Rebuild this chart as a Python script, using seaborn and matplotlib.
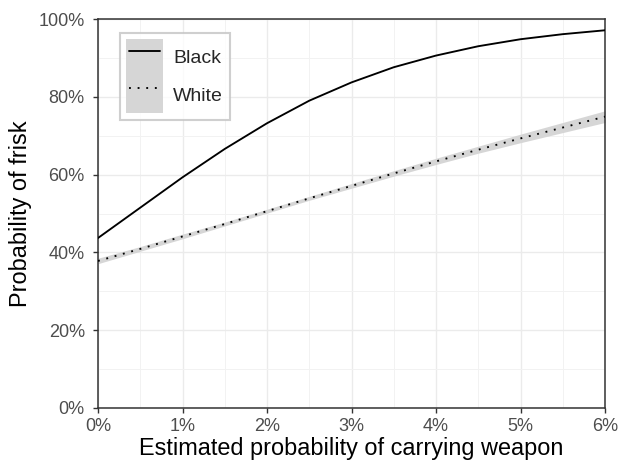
import matplotlib
matplotlib.use("Agg")
import matplotlib.pyplot as plt
from matplotlib.lines import Line2D
from matplotlib.patches import Patch
from matplotlib.legend_handler import HandlerTuple, HandlerLine2D
from matplotlib.ticker import FuncFormatter, MultipleLocator
import pandas as pd
import seaborn as sns

# Estimated probability of carrying a weapon (%)
weapon_prob = [0.0, 0.5, 1.0, 1.5, 2.0, 2.5, 3.0, 3.5, 4.0, 4.5, 5.0, 5.5, 6.0]
# Predicted probability of frisk (%) by race
frisk_black = [43.7, 51.5, 59.3, 66.6, 73.2, 79.0, 83.7, 87.6, 90.6, 93.0, 94.8, 96.1, 97.1]
frisk_white = [37.8, 40.9, 44.1, 47.3, 50.6, 53.9, 57.1, 60.3, 63.4, 66.4, 69.3, 72.1, 74.9]
white_lower = [37.1, 40.3, 43.5, 46.8, 50.1, 53.4, 56.5, 59.6, 62.6, 65.5, 68.2, 70.8, 73.4]
white_upper = [38.5, 41.5, 44.7, 47.8, 51.1, 54.4, 57.7, 61.0, 64.2, 67.3, 70.4, 73.4, 76.4]
races = ["Black", "White"]

df = pd.DataFrame({
    "x": weapon_prob * 2,
    "y": frisk_black + frisk_white,
    "race": ["Black"] * len(weapon_prob) + ["White"] * len(weapon_prob),
})

sns.set_theme(style="white")
plt.rcParams["font.family"] = ["Liberation Sans", "DejaVu Sans"]

fig = plt.figure(figsize=(6.19, 4.62), dpi=100)
ax = fig.add_axes([98 / 619, 1 - 408 / 462, (605 - 98) / 619, (408 - 19) / 462])

ribbon_col = "#d6d6d6"
dot_style = (0, (1, 3.6))
ax.fill_between(weapon_prob, white_lower, white_upper, color=ribbon_col, lw=0, zorder=2)

sns.lineplot(data=df, x="x", y="y", hue="race", style="race",
             palette={"Black": "black", "White": "black"},
             dashes={"Black": "", "White": (1, 3.6)},
             linewidth=1.35, legend=False, ax=ax, zorder=3)

ax.set_xlim(0, 6)
ax.set_ylim(0, 100)
ax.xaxis.set_major_locator(MultipleLocator(1))
ax.xaxis.set_minor_locator(MultipleLocator(0.5))
ax.yaxis.set_major_locator(MultipleLocator(20))
ax.yaxis.set_minor_locator(MultipleLocator(10))
ax.xaxis.set_major_formatter(FuncFormatter(lambda v, p: f"{v:.0f}%"))
ax.yaxis.set_major_formatter(FuncFormatter(lambda v, p: f"{v:.0f}%"))

ax.grid(which="major", color="#ebebeb", linewidth=1.0, zorder=0)
ax.grid(which="minor", color="#f2f2f2", linewidth=0.7, zorder=0)
ax.set_axisbelow(True)

for s in ax.spines.values():
    s.set_color("#333333")
    s.set_linewidth(1.1)

ax.tick_params(which="major", length=3.5, width=1.0, color="#333333",
               labelsize=13, labelcolor="#4d4d4d", bottom=True, left=True)
ax.tick_params(axis="x", which="major", pad=3.5)
ax.tick_params(axis="y", which="major", pad=6)
ax.tick_params(which="minor", length=0)

ax.set_xlabel("Estimated probability of carrying weapon", fontsize=16.9,
              color="black", labelpad=2)
ax.set_ylabel("Probability of frisk", fontsize=16.9, color="black", labelpad=4.5)

handles = [
    (Patch(facecolor=ribbon_col, edgecolor="none"), Line2D([], [], color="black", lw=1.35)),
    (Patch(facecolor=ribbon_col, edgecolor="none"),
     Line2D([], [], color="black", lw=1.35, linestyle=dot_style)),
]
leg = ax.legend(handles, races, loc="upper left", bbox_to_anchor=(0.043, 0.965),
                borderaxespad=0, fontsize=14,
                handler_map={tuple: HandlerTuple(ndivide=1, pad=0),
                             Line2D: HandlerLine2D(numpoints=2, marker_pad=0.15)},
                handlelength=1.9, handleheight=2.56, labelspacing=0.0,
                handletextpad=0.52, borderpad=0.33, frameon=True, fancybox=False)
leg.get_frame().set_edgecolor("#c4c4c4")
leg.get_frame().set_linewidth(1.5)
leg.get_frame().set_facecolor("white")

fig.savefig("out.png", dpi=100)
